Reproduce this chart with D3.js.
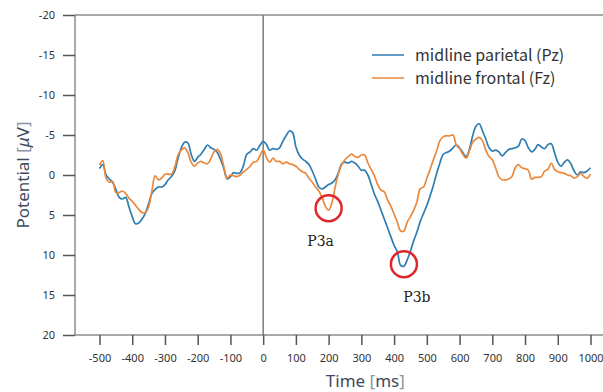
<!DOCTYPE html>
<html>
<head>
<meta charset="utf-8">
<script src="https://cdn.jsdelivr.net/npm/d3@7"></script>
<style>
  body { margin: 0; background: #fff; }
  svg { display: block; }
</style>
</head>
<body>
<svg width="603" height="392"></svg>
<script>
// time points in ms (10 ms steps)
var times = d3.range(-500, 1001, 10);

// midline parietal (Pz), µV (positive is drawn downward)
var pz = [
  -0.8, -1.3, 0.0, 0.5, 0.9, 1.8, 2.8, 3.0, 2.8, 4.0,
  5.2, 6.1, 6.0, 5.5, 4.8, 3.6, 2.3, 1.8, 1.5, 1.5,
  1.2, 0.6, 0.2, -0.5, -2.1, -3.4, -4.1, -4.0, -2.6, -1.7,
  -2.2, -2.6, -3.2, -3.75, -3.4, -3.2, -2.8, -1.9, -0.8, 0.5,
  0.2, -0.3, -0.2, -0.3, -1.2, -2.6, -2.9, -3.3, -3.1, -3.7,
  -4.2, -3.8, -3.1, -3.3, -3.2, -3.4, -4.2, -4.9, -5.5, -5.3,
  -3.5, -2.5, -2.0, -1.7, -1.3, -0.5, 0.5, 1.5, 1.75, 1.5,
  1.2, 1.0, 0.6, -0.3, -1.4, -1.6, -1.5, -1.7, -1.5, -1.1,
  -0.6, -0.6, 0.0, 1.2, 2.4, 3.3, 4.4, 5.5, 6.6, 7.7,
  8.8, 9.6, 11.3, 11.4, 10.6, 9.5, 8.2, 7.1, 5.8, 4.8,
  3.8, 2.6, 1.3, -0.2, -1.5, -2.6, -2.8, -3.0, -3.4, -3.75,
  -3.4, -2.8, -2.3, -3.2, -4.9, -6.1, -6.4, -5.5, -4.5, -3.4,
  -3.0, -3.1, -2.9, -2.4, -2.8, -3.2, -3.3, -3.4, -3.6, -4.5,
  -4.3, -3.4, -2.9, -3.2, -3.8, -3.5, -3.3, -3.8, -3.9, -2.8,
  -1.6, -1.1, -1.6, -1.9, -1.4, -0.5, 0.0, -0.4, -0.3, -0.5,
  -0.9
];

// midline frontal (Fz), µV
var fz = [
  -1.25, -1.8, 0.4, 0.9, 0.8, 2.2, 2.2, 2.0, 2.3, 2.9,
  3.3, 3.8, 4.3, 4.7, 4.7, 4.0, 2.0, 0.1, 0.6, 0.4,
  -0.1, -0.1, -0.1, -1.0, -2.5, -3.1, -3.4, -2.8, -1.6, -1.1,
  -1.5, -1.7, -1.5, -1.4, -2.0, -2.9, -3.2, -2.6, -1.0, 0.4,
  0.0, 0.1, 0.2, 0.0, -0.4, -0.7, -1.1, -1.6, -1.7, -2.4,
  -3.1, -2.2, -1.6, -2.1, -1.7, -1.7, -1.4, -1.6, -1.4, -1.3,
  -1.1, -0.7, -0.4, -0.2, 0.4, 0.9, 1.5, 2.0, 2.8, 3.9,
  4.4, 3.5, 1.5, -0.2, -1.3, -1.9, -2.3, -2.6, -2.3, -2.2,
  -2.5, -2.5, -1.5, -0.7, 0.1, 1.2, 1.9, 2.1, 3.1, 3.9,
  4.9, 5.9, 7.0, 7.0, 5.9, 5.2, 4.4, 3.3, 1.7, 1.5,
  0.4, -0.7, -1.9, -3.0, -4.3, -4.8, -4.9, -4.9, -5.0, -3.75,
  -3.3, -2.6, -2.1, -3.0, -4.1, -4.5, -4.7, -4.3, -3.1, -2.3,
  -1.9, -0.9, 0.2, 0.6, 0.6, 0.5, 0.2, -0.9, -1.3, -0.9,
  -0.8, -0.6, 0.5, 0.3, 0.3, 0.2, -0.5, -0.7, -1.5, -0.7,
  -0.4, -0.3, -0.2, 0.0, 0.1, 0.4, 0.2, -0.2, 0.2, 0.4,
  -0.1
];

var xTicks = [-500, -400, -300, -200, -100, 0, 100, 200, 300, 400, 500, 600, 700, 800, 900, 1000];
var yTicks = [-20, -15, -10, -5, 0, 5, 10, 15, 20];

var seriesNames = ["midline parietal (Pz)", "midline frontal (Fz)"];
var seriesColors = ["#2e7db3", "#ea883c"];

// peaks marked with red circles
var peaks = [
  { name: "P3a", series: 1, t: 200 },
  { name: "P3b", series: 0, t: 430 }
];

var svg = d3.select("svg");

var x = d3.scaleLinear().domain([-500, 1000]).range([99.5, 590.5]);
var y = d3.scaleLinear().domain([-20, 20]).range([15, 335]);

var axisColor = "#8c8c8c";

// frame: top line, left axis, bottom axis, zero line
svg.append("line")
  .attr("x1", 75).attr("x2", 603).attr("y1", y(-20)).attr("y2", y(-20))
  .attr("stroke", axisColor).attr("stroke-width", 1.5);
svg.append("line")
  .attr("x1", 75).attr("x2", 75).attr("y1", y(-20)).attr("y2", y(20))
  .attr("stroke", axisColor).attr("stroke-width", 1.5);
svg.append("line")
  .attr("x1", 75).attr("x2", 603).attr("y1", y(20)).attr("y2", y(20))
  .attr("stroke", axisColor).attr("stroke-width", 1.5);
svg.append("line")
  .attr("x1", x(0)).attr("x2", x(0)).attr("y1", y(-20)).attr("y2", y(20))
  .attr("stroke", "#7a7a7a").attr("stroke-width", 1.5);

// y axis
var yAxis = d3.axisLeft(y).tickValues(yTicks).tickSize(12).tickPadding(8);
var gy = svg.append("g").attr("transform", "translate(75,0)").call(yAxis);
gy.select(".domain").remove();
gy.selectAll(".tick line").attr("stroke", "#555").attr("stroke-width", 1.5);
gy.selectAll(".tick text")
  .attr("fill", "#333")
  .style("font-family", "'Noto Sans', sans-serif")
  .style("font-size", "11px")
  .text(function (d) { return d; });

// x axis
var xAxis = d3.axisBottom(x).tickValues(xTicks).tickSize(10).tickPadding(9);
var gx = svg.append("g").attr("transform", "translate(0," + y(20) + ")").call(xAxis);
gx.select(".domain").remove();
gx.selectAll(".tick line").attr("stroke", "#555").attr("stroke-width", 1.5);
gx.selectAll(".tick text")
  .attr("fill", "#333")
  .style("font-family", "'Noto Sans', sans-serif")
  .style("font-size", "11px")
  .text(function (d) { return d; });

// axis titles
var yTitle = svg.append("text")
  .attr("transform", "translate(29," + y(0) + ") rotate(-90)")
  .attr("text-anchor", "middle")
  .style("font-family", "'Noto Sans', sans-serif")
  .style("font-size", "17px")
  .attr("fill", "#3e4b5e");
yTitle.append("tspan").text("Potential ");
yTitle.append("tspan").attr("fill", "#8b94a3").text("[");
yTitle.append("tspan").style("font-style", "italic").text("\u03bc");
yTitle.append("tspan").text("V");
yTitle.append("tspan").attr("fill", "#8b94a3").text("]");

var xTitle = svg.append("text")
  .attr("x", x(300) + 4)
  .attr("y", 387)
  .attr("text-anchor", "middle")
  .style("font-family", "'Noto Sans', sans-serif")
  .style("font-size", "17px")
  .attr("fill", "#3e4b5e");
xTitle.append("tspan").text("Time ");
xTitle.append("tspan").attr("fill", "#8b94a3").text("[");
xTitle.append("tspan").text("ms");
xTitle.append("tspan").attr("fill", "#8b94a3").text("]");

// lines
var line = d3.line()
  .x(function (d, i) { return x(times[i]); })
  .y(function (d) { return y(d); })
  .curve(d3.curveCatmullRom);

[pz, fz].forEach(function (s, k) {
  svg.append("path")
    .datum(s)
    .attr("d", line)
    .attr("fill", "none")
    .attr("stroke", seriesColors[k])
    .attr("stroke-width", 1.7);
});

// legend
var legend = svg.append("g").attr("transform", "translate(372,55)");
seriesNames.forEach(function (name, k) {
  var g = legend.append("g").attr("transform", "translate(0," + (k * 23) + ")");
  g.append("line")
    .attr("x1", 0).attr("x2", 32).attr("y1", 0).attr("y2", 0)
    .attr("stroke", seriesColors[k]).attr("stroke-width", 1.5);
  g.append("text")
    .attr("x", 43).attr("y", 5.5)
    .style("font-family", "'Noto Sans CJK JP', 'Noto Sans', sans-serif")
    .style("font-size", "16px")
    .attr("fill", "#333")
    .text(name);
});

// peak circles and labels
var labelOffset = { P3a: [-8, 38], P3b: [13, 38] };
peaks.forEach(function (p) {
  var s = p.series === 0 ? pz : fz;
  var v = s[times.indexOf(p.t)];
  var cx = x(p.t), cy = y(v) - 2;
  svg.append("circle")
    .attr("cx", cx).attr("cy", cy).attr("r", 13)
    .attr("fill", "none")
    .attr("stroke", "#e0262b")
    .attr("stroke-width", 2.5);
  svg.append("text")
    .attr("x", cx + labelOffset[p.name][0])
    .attr("y", cy + labelOffset[p.name][1])
    .attr("text-anchor", "middle")
    .style("font-family", "'DejaVu Serif', serif")
    .style("font-size", "14px")
    .attr("fill", "#222")
    .text(p.name);
});
</script>
</body>
</html>
